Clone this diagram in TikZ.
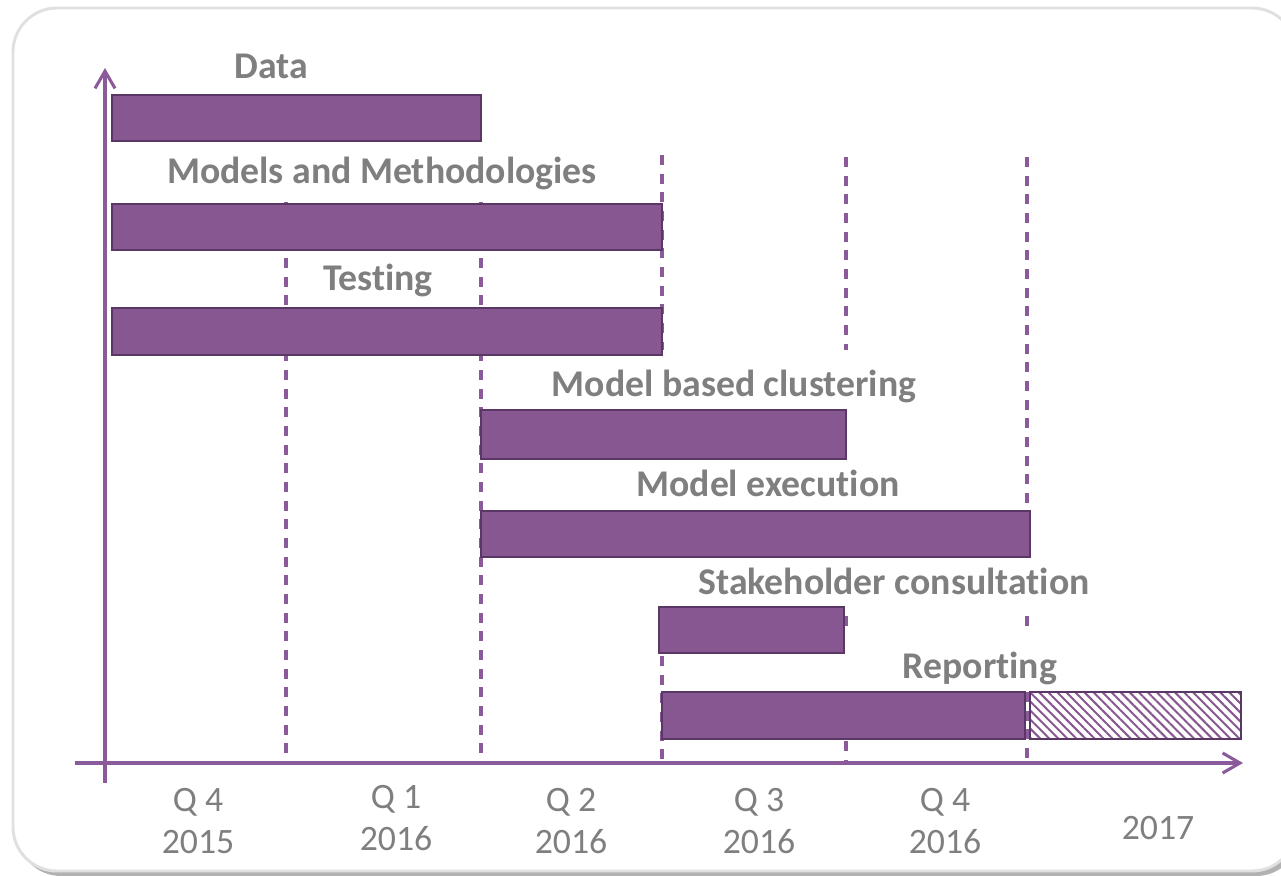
\documentclass[tikz,border=0pt]{standalone}
\usepackage{fontspec}
\setmainfont{Carlito}[RawFeature={-liga}]
\usetikzlibrary{arrows.meta,fit,patterns.meta}
\definecolor{barfill}{HTML}{875791}
\definecolor{barline}{HTML}{5A3764}
\definecolor{axiscol}{HTML}{8A5A9A}
\definecolor{txtgray}{HTML}{7F7F7F}
\tikzset{
  bar/.style={draw=barline, fill=barfill, line width=2.2pt, inner sep=0pt},
  hatchbar/.style={draw=barline, line width=2.2pt, inner sep=0pt,
    preaction={fill=white},
    pattern={Lines[angle=-45,distance=4.8pt,line width=1.5pt]}, pattern color=barfill},
  grid/.style={draw=axiscol, line width=2.3pt, dash pattern=on 7.5pt off 6.5pt},
  axis/.style={draw=axiscol, line width=2.3pt, -{Straight Barb[length=13pt,width=15pt,line width=2.3pt]}},
  lbl/.style={text=txtgray, font=\fontsize{28.3}{32}\selectfont\bfseries, anchor=base, inner sep=0pt},
  ax/.style={text=txtgray, font=\fontsize{26.8}{30}\selectfont, anchor=base, inner sep=0pt},
}
\begin{document}
\begin{tikzpicture}[x=0.75pt,y=-0.75pt]
\clip (0,0) rectangle (1281,875);
\fill[white] (0,0) rectangle (1281,875);
% frame with shadow
\fill[black!30, rounded corners=33pt] (17,12) rectangle (1300,876);
\draw[black!12, line width=2.2pt, fill=white, rounded corners=33pt] (13,8) rectangle (1296,871);

% dashed quarter lines
\draw[grid] (286,202) -- (286,763);
\draw[grid] (481,202) -- (481,763);
\draw[grid] (662,155) -- (662,350);
\draw[grid] (662,656) -- (662,763);
\draw[grid] (846,157) -- (846,350);
\draw[grid] (846,616) -- (846,632);
\draw[grid] (846,741) -- (846,763);
\draw[grid] (1027,157) -- (1027,510);
\draw[grid] (1027,616) -- (1027,632);
\draw[grid] (1027,692) -- (1027,763);

% axes
\coordinate (ybot) at (105,783);
\coordinate (ytop) at (105,68);
\coordinate (xleft) at (75,763);
\coordinate (xright) at (1243,763);
\draw[axis] (ybot) -- (ytop);
\draw[axis] (xleft) -- (xright);

% bars
\node[bar, fit={(112,95) (481,141)}] (bData) {};
\node[bar, fit={(112,204) (662,250)}] (bModels) {};
\node[bar, fit={(112,308) (662,355)}] (bTest) {};
\node[bar, fit={(481,410) (846,459)}] (bClust) {};
\node[bar, fit={(481,511) (1030,557)}] (bExec) {};
\node[bar, fit={(659,607) (844,653)}] (bStake) {};
\node[bar, fit={(662,692) (1025,739)}] (bRep) {};
\node[hatchbar, fit={(1030,692) (1241,739)}] (bRep2) {};

% labels
\node[lbl] (tData) at (271,78) {Data};
\node[lbl] (tModels) at (382,183) {Models and Methodologies};
\node[lbl] (tTest) at (378,290) {Testing};
\node[lbl] (tClust) at (734,396) {Model based clustering};
\node[lbl] (tExec) at (768,496) {Model execution};
\node[lbl] (tStake) at (894,594) {Stakeholder consultation};
\node[lbl] (tRep) at (980,678) {Reporting};

% axis labels
\node[ax] (q1a) at (198,811) {Q 4};
\node[ax] (q1b) at (198,853) {2015};
\node[ax] (q2a) at (396,808) {Q 1};
\node[ax] (q2b) at (396,850) {2016};
\node[ax] (q3a) at (571,811) {Q 2};
\node[ax] (q3b) at (571,853) {2016};
\node[ax] (q4a) at (759,811) {Q 3};
\node[ax] (q4b) at (759,853) {2016};
\node[ax] (q5a) at (945,811) {Q 4};
\node[ax] (q5b) at (945,853) {2016};
\node[ax] (q6) at (1158,839) {2017};
\end{tikzpicture}
\end{document}
